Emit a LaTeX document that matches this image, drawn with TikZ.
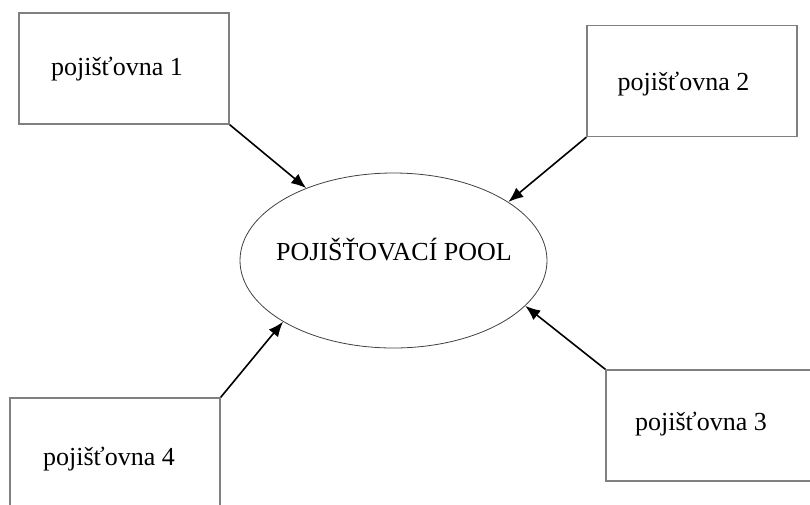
\documentclass[tikz,border=0pt]{standalone}
\usepackage{fontspec}
\setmainfont{Liberation Serif}
\usetikzlibrary{arrows.meta, shapes.geometric}

\begin{document}
\begin{tikzpicture}[x=1pt, y=-1pt,
    firm/.style={draw=black!50, line width=1.4pt, rectangle, minimum width=210pt, minimum height=111pt, inner sep=0pt},
    pool/.style={draw=black!75, line width=0.8pt, ellipse, minimum width=307pt, minimum height=175pt, inner sep=0pt},
    txt/.style={anchor=base, inner sep=0pt, font=\fontsize{26}{30}\selectfont},
    feed/.style={line width=1.6pt, -{Latex[length=15pt, width=12pt]}}]
      \useasboundingbox (0,0) rectangle (810,504);

      % insurers
      \node[firm] (ins1) at (124,68.5) {};
      \node[firm] (ins2) at (692,81) {};
      \node[firm] (ins3) at (711,425.5) {};
      \node[firm] (ins4) at (115,453.5) {};

      % pool
      \node[pool] (pool) at (393.5,260.5) {};

      % labels
      \node[txt] (lab1) at (117,75) {pojišťovna 1};
      \node[txt] (lab2) at (683.5,90) {pojišťovna 2};
      \node[txt] (lab3) at (701,430) {pojišťovna 3};
      \node[txt] (lab4) at (109,465) {pojišťovna 4};
      \node[txt] (labp) at (394,260) {POJIŠŤOVACÍ POOL};

      % arrows into the pool
      \draw[feed] (ins1.south east) -- (pool);
      \draw[feed] (ins2.south west) -- (pool.27);
      \draw[feed] (ins3.north west) -- (pool.-19);
      \draw[feed] (ins4.north east) -- (pool.209);
\end{tikzpicture}
\end{document}
